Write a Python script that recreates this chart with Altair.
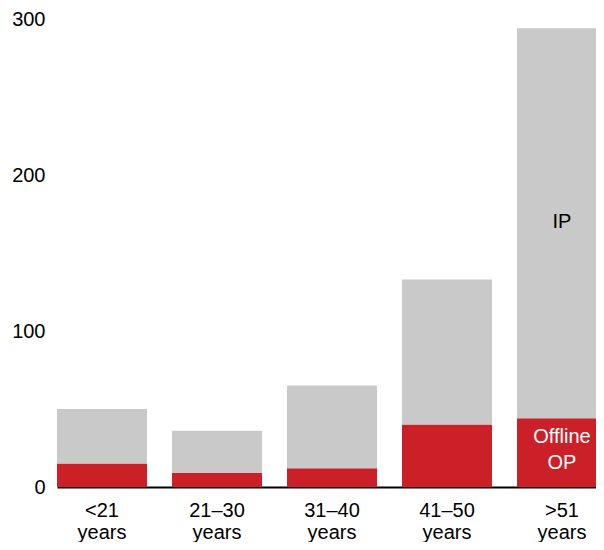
import altair as alt
import pandas as pd

categories = ["<21 years", "21–30 years", "31–40 years", "41–50 years", ">51 years"]
offline_op = [15, 9, 12, 40, 44]
ip = [35, 27, 53, 93, 250]
y_ticks = [0, 100, 200, 300]

label_cats = [">51 years", ">51 years"]
label_texts = ["IP", "Offline\nOP"]
label_vals = [170, 32]
label_colors = ["black", "white"]

rows = []
for c, o, i in zip(categories, offline_op, ip):
    rows.append({"cat": c, "series": "Offline OP", "value": o, "ord": 0})
    rows.append({"cat": c, "series": "IP", "value": i, "ord": 1})
df = pd.DataFrame(rows)

lab = pd.DataFrame({"cat": label_cats, "text": label_texts, "v": label_vals, "col": label_colors})

FONT = "Liberation Sans, Arial, sans-serif"

x_scale = alt.Scale(range=[0, 550], paddingInner=0.2174, paddingOuter=0)

x = alt.X(
    "cat:N",
    sort=categories,
    scale=x_scale,
    axis=alt.Axis(
        title=None,
        labelAngle=0,
        labelExpr="split(datum.label, ' ')",
        labelLineHeight=22,
        labelFontSize=20,
        labelFont=FONT,
        labelColor="black",
        labelPadding=13.5,
        ticks=False,
        tickSize=0,
        domainColor="black",
        domainWidth=2,
        grid=False,
    ),
)

bars = alt.Chart(df).mark_bar(clip=True).encode(
    x=x,
    y=alt.Y(
        "value:Q",
        stack="zero",
        scale=alt.Scale(domain=[0, 300], nice=False),
        axis=alt.Axis(
            title=None,
            values=y_ticks,
            labelFontSize=20,
            labelFont=FONT,
            labelColor="black",
            labelPadding=12,
            ticks=False,
            tickSize=0,
            domain=False,
            grid=False,
        ),
    ),
    color=alt.Color(
        "series:N",
        scale=alt.Scale(domain=["Offline OP", "IP"], range=["#cc2028", "#c9c9c9"]),
        legend=None,
    ),
    order=alt.Order("ord:Q"),
)

texts = alt.Chart(lab).mark_text(
    fontSize=20, font=FONT, lineBreak="\n", lineHeight=26, align="center", baseline="middle"
).encode(
    x=alt.X("cat:N", sort=categories),
    y=alt.Y("v:Q"),
    text="text:N",
    color=alt.Color("col:N", scale=None),
)

chart = (
    alt.layer(bars, texts)
    .properties(
        width=539,
        height=468,
        background="white",
        autosize=alt.AutoSizeParams(type="none"),
        padding={"left": 49, "top": 11, "right": 0, "bottom": 55},
    )
    .configure_view(strokeWidth=0, stroke="transparent")
)

chart.save("out.html", embed_options={"renderer": "svg", "actions": False})
